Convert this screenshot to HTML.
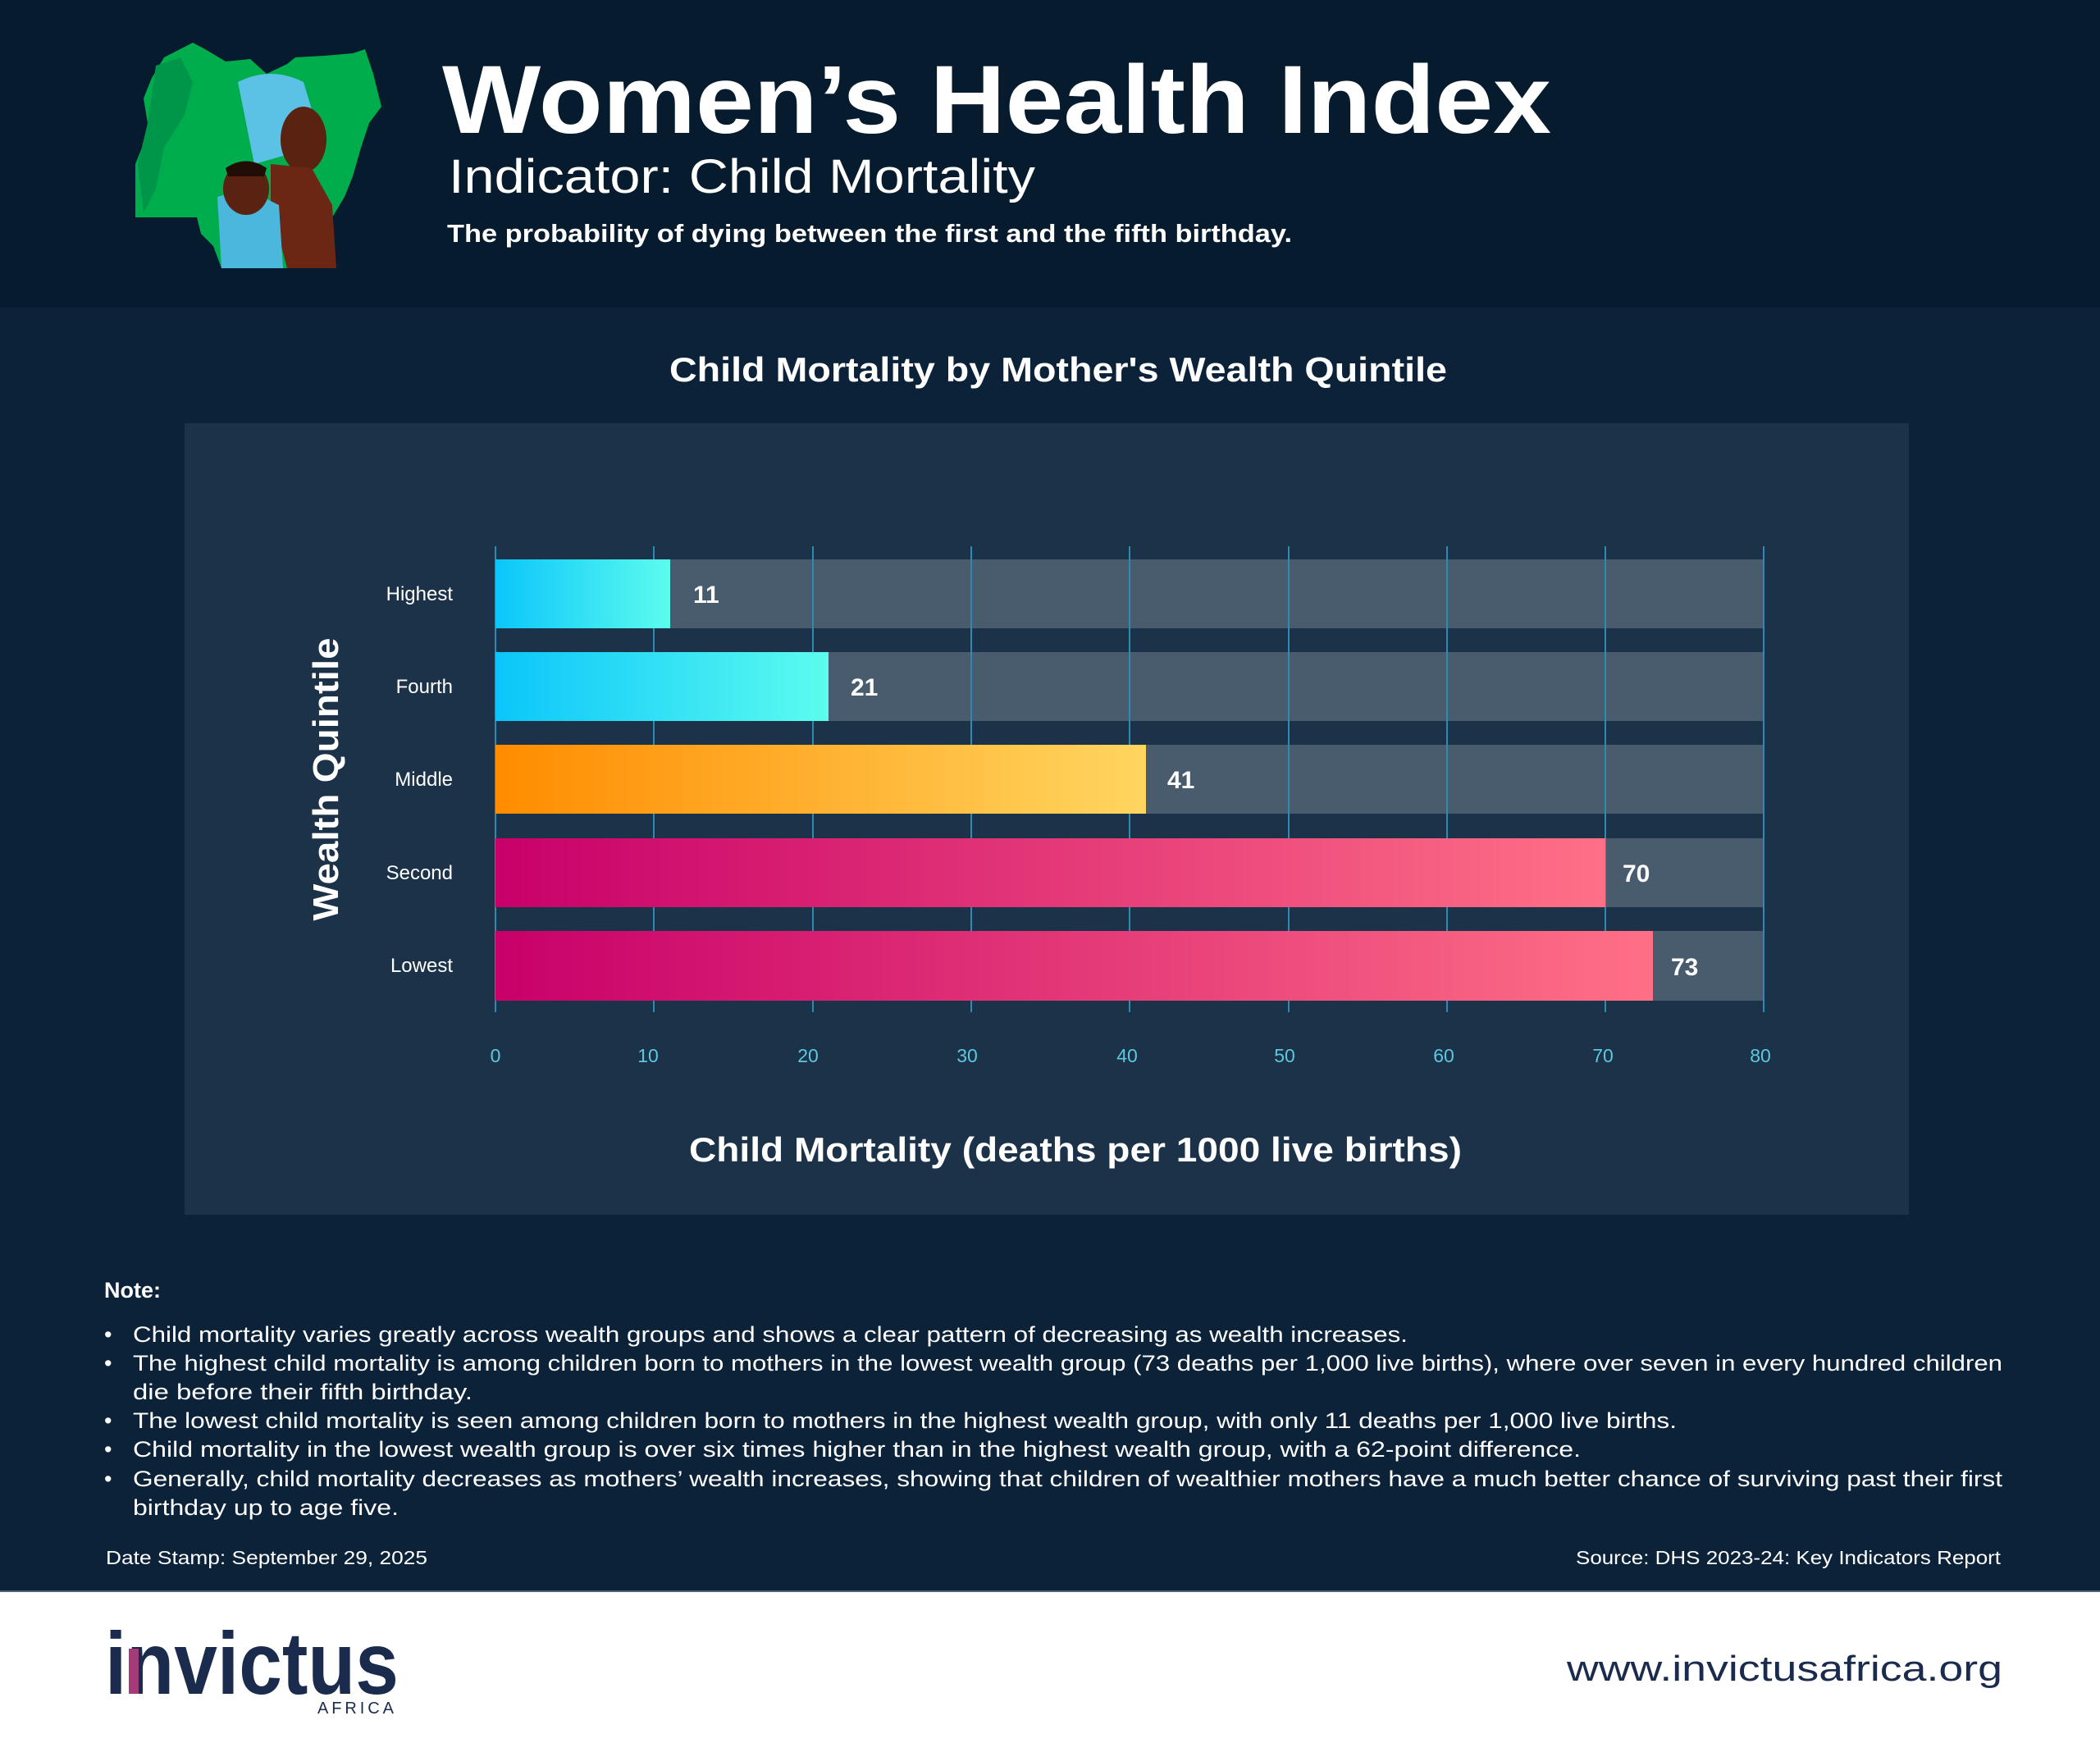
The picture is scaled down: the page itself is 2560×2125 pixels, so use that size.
<!DOCTYPE html>
<html><head><meta charset="utf-8"><style>
html,body{margin:0;padding:0;background:#0b2239;}
svg{display:block;font-family:"Liberation Sans",sans-serif;}
</style></head><body>
<svg width="2560" height="2125" viewBox="0 0 2560 2125" xmlns="http://www.w3.org/2000/svg">
<defs>
<linearGradient id="cy" x1="0" x2="1"><stop offset="0" stop-color="#0bc6fb"/><stop offset="1" stop-color="#5cfcee"/></linearGradient>
<linearGradient id="or" x1="0" x2="1"><stop offset="0" stop-color="#ff8c00"/><stop offset="1" stop-color="#ffd660"/></linearGradient>
<linearGradient id="pk" x1="0" x2="1"><stop offset="0" stop-color="#c8006a"/><stop offset="1" stop-color="#ff7086"/></linearGradient>
</defs>
<rect width="2560" height="2125" fill="#0b2239"/>
<rect width="2560" height="375" fill="#071b2f"/>
<!-- illustration -->
<path d="M200 70 L235 52 L250 60 L275 75 L305 72 L325 90 L350 78 L360 70 L395 68 L430 65 L445 60 L455 90 L460 110 L465 130 L450 150 L440 180 L430 215 L420 240 L405 265 L400 300 L395 327 L270 327 L260 300 L245 285 L240 265 L165 265 L165 200 L175 175 L180 150 L175 120 L185 95 Z" fill="#00ad4c"/>
<path d="M190 80 L220 70 L235 100 L225 140 L200 180 L190 230 L175 260 L168 200 L180 150 Z" fill="#00964a"/>
<path d="M290 100 Q330 80 370 100 L385 150 L375 200 L345 190 L310 200 L300 150 Z" fill="#5bc2e6"/>
<ellipse cx="370" cy="170" rx="28" ry="40" fill="#5a2210"/>
<path d="M330 200 L380 205 L405 250 L410 327 L350 327 L330 250 Z" fill="#6b2614"/>
<path d="M265 240 L300 230 L340 250 L345 327 L270 327 Z" fill="#4bb7dd"/>
<ellipse cx="300" cy="230" rx="28" ry="32" fill="#5a2210"/>
<path d="M275 205 Q300 188 325 205 L322 215 L278 215 Z" fill="#220c06"/>
<!-- titles -->
<text x="539" y="162" fill="#fff" font-size="118" font-weight="bold" textLength="1352" lengthAdjust="spacingAndGlyphs">Women’s Health Index</text>
<text x="547" y="235" fill="#fff" font-size="58" textLength="715" lengthAdjust="spacingAndGlyphs">Indicator: Child Mortality</text>
<text x="545" y="295" fill="#fff" font-size="31" font-weight="bold" textLength="1030" lengthAdjust="spacingAndGlyphs">The probability of dying between the first and the fifth birthday.</text>
<text x="1290" y="465" fill="#fff" font-size="42" font-weight="bold" text-anchor="middle" textLength="948" lengthAdjust="spacingAndGlyphs">Child Mortality by Mother's Wealth Quintile</text>
<!-- panel -->
<rect x="225" y="516" width="2102" height="965" fill="#1b3249"/>
<!-- background bars -->
<g fill="#495c6e">
<rect x="604" y="682" width="1546" height="84"/>
<rect x="604" y="795" width="1546" height="84"/>
<rect x="604" y="908" width="1546" height="84"/>
<rect x="604" y="1022" width="1546" height="84"/>
<rect x="604" y="1135" width="1546" height="85"/>
</g>
<!-- grid -->
<g stroke="#2a8cb0" stroke-width="2">
<line x1="604" y1="666" x2="604" y2="1234"/><line x1="797" y1="666" x2="797" y2="1234"/><line x1="991" y1="666" x2="991" y2="1234"/><line x1="1184" y1="666" x2="1184" y2="1234"/><line x1="1377" y1="666" x2="1377" y2="1234"/><line x1="1571" y1="666" x2="1571" y2="1234"/><line x1="1764" y1="666" x2="1764" y2="1234"/><line x1="1957" y1="666" x2="1957" y2="1234"/><line x1="2150" y1="666" x2="2150" y2="1234"/>
</g>
<rect x="604" y="682" width="213" height="84" fill="url(#cy)"/>
<rect x="604" y="795" width="406" height="84" fill="url(#cy)"/>
<rect x="604" y="908" width="793" height="84" fill="url(#or)"/>
<rect x="604" y="1022" width="1353" height="84" fill="url(#pk)"/>
<rect x="604" y="1135" width="1411" height="85" fill="url(#pk)"/>
<g fill="#fff" font-size="30" font-weight="bold">
<text x="845" y="735">11</text><text x="1037" y="848">21</text><text x="1423" y="961">41</text><text x="1978" y="1075">70</text><text x="2037" y="1189">73</text>
</g>
<g fill="#fff" font-size="24" text-anchor="end">
<text x="552" y="732">Highest</text><text x="552" y="845">Fourth</text><text x="552" y="958">Middle</text><text x="552" y="1072">Second</text><text x="552" y="1185">Lowest</text>
</g>
<g fill="#5bc8e0" font-size="23" text-anchor="middle">
<text x="604" y="1295">0</text><text x="790" y="1295">10</text><text x="985" y="1295">20</text><text x="1179" y="1295">30</text><text x="1374" y="1295">40</text><text x="1566" y="1295">50</text><text x="1760" y="1295">60</text><text x="1954" y="1295">70</text><text x="2146" y="1295">80</text>
</g>
<text transform="translate(412,950) rotate(-90)" fill="#fff" font-size="44" font-weight="bold" text-anchor="middle" textLength="345" lengthAdjust="spacingAndGlyphs">Wealth Quintile</text>
<text x="1311" y="1416" fill="#fff" font-size="42" font-weight="bold" text-anchor="middle" textLength="942" lengthAdjust="spacingAndGlyphs">Child Mortality (deaths per 1000 live births)</text>
<!-- notes -->
<text x="127" y="1582" fill="#fff" font-size="27" font-weight="bold">Note:</text>
<g fill="#fff" font-size="27">
<text x="127" y="1636">•</text><text x="162" y="1636" textLength="1554" lengthAdjust="spacingAndGlyphs">Child mortality varies greatly across wealth groups and shows a clear pattern of decreasing as wealth increases.</text>
<text x="127" y="1671">•</text><text x="162" y="1671" textLength="2279" lengthAdjust="spacingAndGlyphs">The highest child mortality is among children born to mothers in the lowest wealth group (73 deaths per 1,000 live births), where over seven in every hundred children</text>
<text x="162" y="1706" textLength="414" lengthAdjust="spacingAndGlyphs">die before their fifth birthday.</text>
<text x="127" y="1741">•</text><text x="162" y="1741" textLength="1882" lengthAdjust="spacingAndGlyphs">The lowest child mortality is seen among children born to mothers in the highest wealth group, with only 11 deaths per 1,000 live births.</text>
<text x="127" y="1776">•</text><text x="162" y="1776" textLength="1765" lengthAdjust="spacingAndGlyphs">Child mortality in the lowest wealth group is over six times higher than in the highest wealth group, with a 62-point difference.</text>
<text x="127" y="1812">•</text><text x="162" y="1812" textLength="2279" lengthAdjust="spacingAndGlyphs">Generally, child mortality decreases as mothers’ wealth increases, showing that children of wealthier mothers have a much better chance of surviving past their first</text>
<text x="162" y="1847" textLength="324" lengthAdjust="spacingAndGlyphs">birthday up to age five.</text>
</g>
<text x="129" y="1907" fill="#fff" font-size="23" textLength="392" lengthAdjust="spacingAndGlyphs">Date Stamp: September 29, 2025</text>
<text x="2439" y="1907" fill="#fff" font-size="23" text-anchor="end" textLength="518" lengthAdjust="spacingAndGlyphs">Source: DHS 2023-24: Key Indicators Report</text>
<!-- footer -->
<rect x="0" y="1940" width="2560" height="185" fill="#fff"/>
<rect x="0" y="1939" width="2560" height="2" fill="#4d6378"/>
<text x="128" y="2065" fill="#1a2b4e" font-size="108" font-weight="bold" textLength="358" lengthAdjust="spacingAndGlyphs">invictus</text>
<rect x="157" y="2010" width="12" height="55" fill="#a53a78"/>
<text x="387" y="2089" fill="#1a2b4e" font-size="20" textLength="93" lengthAdjust="spacing">AFRICA</text>
<text x="2441" y="2049" fill="#1a2b4e" font-size="44" text-anchor="end" textLength="531" lengthAdjust="spacingAndGlyphs">www.invictusafrica.org</text>
</svg>
</body></html>
